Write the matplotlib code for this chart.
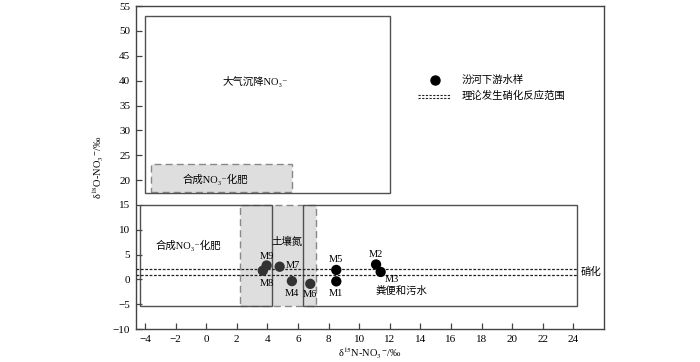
import matplotlib
matplotlib.use("Agg")
import matplotlib.pyplot as plt
from matplotlib.patches import Rectangle

plt.rcParams['font.family'] = ['Liberation Serif', 'DejaVu Serif', 'Noto Sans CJK SC']
plt.rcParams['mathtext.fontset'] = 'stix'

# Sample data (δ15N, δ18O)
labels = ["M1", "M2", "M3", "M4", "M5", "M6", "M7", "M8", "M9"]
d15N = [8.5, 11.1, 11.4, 5.6, 8.5, 6.8, 4.8, 3.7, 3.95]
d18O = [-0.4, 3.0, 1.5, -0.35, 1.9, -0.9, 2.55, 1.75, 2.8]
colors = ["#000000", "#000000", "#000000", "#333333", "#000000",
          "#333333", "#333333", "#333333", "#333333"]

# Label offsets in points
label_offsets = {"M1": (0, -9), "M2": (0, 7.5), "M3": (8, -5.5), "M4": (0, -9),
                 "M5": (0, 7.5), "M6": (0, -7.5), "M7": (9.5, 1.2), "M8": (3, -9.5),
                 "M9": (0, 6.5)}

# Source regions (x0, x1, y0, y1)
atm_box = (-4.0, 12.0, 17.3, 53.0)
syn_fert_upper = (-3.6, 5.6, 17.5, 23.3)
fert_box = (-4.35, 4.3, -5.3, 15.0)
manure_box = (6.3, 24.25, -5.3, 15.0)
soil_box = (2.2, 7.2, -5.3, 15.0)
nitrif_lines = [0.9, 2.1]

xticks = list(range(-4, 25, 2))
yticks = list(range(-10, 56, 5))

fig = plt.figure(figsize=(7.0, 3.62), dpi=100)
ax = fig.add_axes([0.194, 0.091, 0.669, 0.892])
ax.set_xlim(-4.6, 26.0)
ax.set_ylim(-10, 55)

edge = "#505050"

def rect(b, **kw):
    x0, x1, y0, y1 = b
    ax.add_patch(Rectangle((x0, y0), x1 - x0, y1 - y0, **kw))

# gray regions
rect(soil_box, facecolor="#dedede", edgecolor="#888888", linestyle=(0, (5, 3)), lw=1.0, zorder=1)
rect(syn_fert_upper, facecolor="#dedede", edgecolor="#888888", linestyle=(0, (5, 3)), lw=1.0, zorder=1)
# solid boxes
rect(atm_box, facecolor="none", edgecolor=edge, lw=1.0, zorder=2)
rect(fert_box, facecolor="none", edgecolor=edge, lw=1.0, zorder=2)
rect(manure_box, facecolor="none", edgecolor=edge, lw=1.0, zorder=2)

# nitrification lines
for yv in nitrif_lines:
    ax.plot([-4.6, manure_box[1]], [yv, yv], color="#222222", lw=0.9,
            linestyle=(0, (2.2, 1.3)), zorder=3)

ax.scatter(d15N, d18O, s=55, c=colors, zorder=5, edgecolors="none")
for lab, x, y in zip(labels, d15N, d18O):
    dx, dy = label_offsets[lab]
    ax.annotate(lab, (x, y), xytext=(dx, dy), textcoords="offset points",
                ha="center", va="center", fontsize=7.5, zorder=6)

tfs = 7.5
ax.text(3.2, 39.8, "大气沉降NO₃⁻", ha="center", va="center", fontsize=tfs)
ax.text(0.6, 20.1, "合成NO₃⁻化肥", ha="center", va="center", fontsize=tfs)
ax.text(-1.15, 6.9, "合成NO₃⁻化肥", ha="center", va="center", fontsize=tfs)
ax.text(5.3, 7.5, "土壤氮", ha="center", va="center", fontsize=tfs)
ax.text(12.75, -2.4, "粪便和污水", ha="center", va="center", fontsize=tfs)
ax.text(24.45, 1.6, "硝化", ha="left", va="center", fontsize=tfs)

# legend (manual)
ax.plot([14.92], [40.2], "o", color="black", ms=6.5)
ax.text(16.67, 40.2, "汾河下游水样", ha="left", va="center", fontsize=tfs)
for yv in [37.2, 36.6]:
    ax.plot([13.86, 15.95], [yv, yv], color="#222222", lw=0.8, linestyle=(0, (2, 1.3)))
ax.text(16.67, 36.9, "理论发生硝化反应范围", ha="left", va="center", fontsize=tfs)

ax.set_xticks(xticks)
ax.set_yticks(yticks)
ax.set_xticklabels([str(v).replace("-", "\u2212") for v in xticks], fontsize=8)
ax.set_yticklabels([str(v).replace("-", "\u2212") for v in yticks], fontsize=8)
ax.tick_params(direction="in", length=4, width=0.9, color="#444444", pad=4)
for s in ax.spines.values():
    s.set_color("#444444")
    s.set_linewidth(1.0)

ax.set_xlabel("δ$^{15}$N-NO$_3$$^{-}$/‰", fontsize=7.5, labelpad=2)
ax.set_ylabel("δ$^{18}$O-NO$_3$$^{-}$/‰", fontsize=7.5, labelpad=5)

fig.savefig("out.png", dpi=100)
